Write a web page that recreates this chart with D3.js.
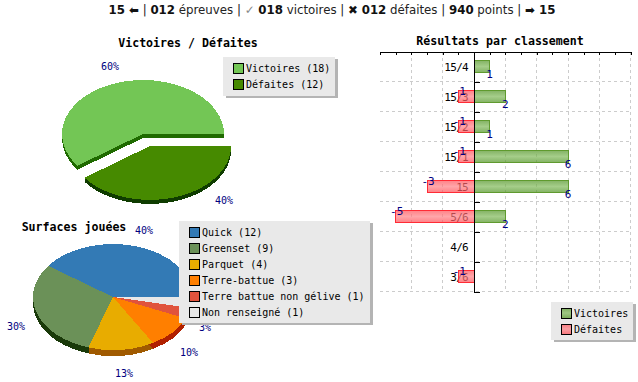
<!DOCTYPE html>
<html>
<head>
<meta charset="utf-8">
<script src="https://d3js.org/d3.v7.min.js"></script>
<style>
    html, body { margin: 0; padding: 0; background: #fff; overflow: hidden; }
    svg { display: block; }
    text { font-family: "DejaVu Sans Mono", monospace; font-size: 10px; }
    .title { font-size: 11.6px; font-weight: bold; }
    .val { fill: #000080; }
    .barval { font-size: 11px; }
    .rank { font-size: 11px; letter-spacing: -0.7px; }
    .head { font-family: "DejaVu Sans", sans-serif; font-size: 11.8px; fill: #222; }
    .head .b { font-weight: bold; fill: #111; }
    .head .g { fill: #888; }
    .axis path, .axis line { stroke: #000; shape-rendering: crispEdges; }
</style>
</head>
<body>
<div id="chart"></div>
<script>
// header line
const headerParts = [["15 ", "b"], ["\u2B05", "b"], [" | ", ""], ["012", "b"], [" épreuves | ", ""], ["\u2713", "g"], [" ", ""], ["018", "b"],
    [" victoires | ", ""], ["\u2716", "b"], [" ", ""], ["012", "b"], [" défaites | ", ""], ["940", "b"], [" points | ", ""], ["\u27A1", "b"], [" 15", "b"]];

// pie 1
const resultNames = ["Victoires", "Défaites"];
const resultValues = [18, 12];
const resultPct = ["60%", "40%"];
const resultColors = ["#73c655", "#468a00"];
const resultSides = ["#1f6a00", "#0f3c00"];

// pie 2
const surfaceNames = ["Quick", "Greenset", "Parquet", "Terre-battue", "Terre battue non gélive", "Non renseigné"];
const surfaceValues = [12, 9, 4, 3, 1, 1];
const surfacePct = ["40%", "30%", "13%", "10%", "3%", "3%"];
const surfaceColors = ["#337ab5", "#6b9158", "#e8ac00", "#ff7f00", "#e0533c", "#e8e8e8"];
const surfaceSides = ["#1a3d5c", "#1a3a0a", "#a05a00", "#b02000", "#8a2010", "#999999"];

// bars
const rankings = ["15/4", "15/3", "15/2", "15/1", "15", "5/6", "4/6", "3/6"];
const wins = [1, 2, 1, 6, 6, 2, 0, 0];
const losses = [0, 1, 1, 1, 3, 5, 0, 1];

const svg = d3.select("#chart").append("svg").attr("width", 638).attr("height", 382);

const defs = svg.append("defs");
function gradient(id, edge, mid) {
    const g = defs.append("linearGradient").attr("id", id).attr("x1", 0).attr("x2", 0).attr("y1", 0).attr("y2", 1);
    g.append("stop").attr("offset", "0%").attr("stop-color", edge);
    g.append("stop").attr("offset", "50%").attr("stop-color", mid);
    g.append("stop").attr("offset", "100%").attr("stop-color", edge);
}
gradient("greenBar", "#4d9120", "#7fb858");
gradient("redBar", "#ff4a52", "#ff8085");

// header
const head = svg.append("text").attr("class", "head").attr("x", 332).attr("y", 14).attr("text-anchor", "middle");
head.selectAll("tspan").data(headerParts).enter().append("tspan")
    .attr("class", d => d[1])
    .style("white-space", "pre")
    .text(d => d[0]);

// legend box with the grey shadow on its right and bottom
function legend(x, y, w, h, swatchX, rowY, names, fills, swatchOpacity) {
    const g = svg.append("g").attr("shape-rendering", "crispEdges");
    g.append("rect").attr("x", x + 3).attr("y", y + 2).attr("width", w).attr("height", h).attr("fill", "#b4b4b4");
    g.append("rect").attr("x", x).attr("y", y).attr("width", w).attr("height", h).attr("fill", "#e9e9e9");
    names.forEach((name, i) => {
        g.append("rect").attr("x", swatchX).attr("y", rowY + i * 16 - 5).attr("width", 10).attr("height", 10)
            .attr("fill", fills[i]).attr("fill-opacity", swatchOpacity || 1).attr("stroke", "#000");
        svg.append("text").attr("x", swatchX + 12.5).attr("y", rowY + i * 16 + 3.5).attr("fill", "#000").text(name);
    });
}

// pseudo 3D pie: d3.arc squashed vertically, sides are the same arc stacked downward, tops go last
function pie3d(values, colors, sides, cx, cy, rx, ry, depth, explode) {
    const slices = d3.pie().sort(null).startAngle(Math.PI / 2).endAngle(Math.PI / 2 - 2 * Math.PI)(values);
    const arc = d3.arc().innerRadius(0).outerRadius(rx);
    const g = svg.append("g").attr("shape-rendering", "crispEdges");
    const place = (i, d) => {
        const off = explode ? explode[i] : [0, 0];
        return `translate(${cx + off[0]},${cy + off[1] + d}) scale(1,${ry / rx})`;
    };
    slices.forEach((s, i) => {
        for (let d = depth; d >= 1; d--) {
            g.append("path").attr("transform", place(i, d)).attr("d", arc(s)).attr("fill", sides[i]);
        }
    });
    slices.forEach((s, i) => {
        g.append("path").attr("transform", place(i, 0)).attr("d", arc(s)).attr("fill", colors[i]);
    });
}

function pieLabels(labels, spots) {
    labels.forEach((t, i) => {
        if (!spots[i]) return;
        svg.append("text").attr("class", "val").attr("x", spots[i][0]).attr("y", spots[i][1]).attr("text-anchor", "middle").text(t);
    });
}

// Victoires / Défaites
svg.append("text").attr("class", "title").attr("x", 188).attr("y", 47).attr("text-anchor", "middle").text("Victoires / Défaites");
pie3d(resultValues, resultColors, resultSides, 143, 134, 81, 54, 4, [[0, 0], [7, 12]]);
pieLabels(resultPct, [[110, 70], [224, 204]]);
legend(223, 57, 112, 39, 233.5, 68, resultNames.map((n, i) => `${n} (${resultValues[i]})`), resultColors);

// Surfaces jouées
svg.append("text").attr("class", "title").attr("x", 74).attr("y", 231).attr("text-anchor", "middle").text("Surfaces jouées");
pie3d(surfaceValues, surfaceColors, surfaceSides, 113, 297, 80, 53, 6);
pieLabels(surfacePct, [[144, 234], [16, 330], [124, 377], [189, 356], [205, 331], null]);
legend(179, 221, 191, 102, 189.5, 232, surfaceNames.map((n, i) => `${n} (${surfaceValues[i]})`), surfaceColors);

// Résultats par classement
const x = d3.scaleLinear().domain([-6, 10]).range([380, 630.7]);
const y = d3.scaleBand().domain(rankings).range([51.5, 291.5]).paddingInner(0.585).paddingOuter(0.2925);
const yEdge = d3.scaleLinear().domain([0, rankings.length]).range([51.5, 291.5]);

svg.append("text").attr("class", "title").attr("x", 500).attr("y", 45).attr("text-anchor", "middle").text("Résultats par classement");

const grid = svg.append("g").attr("stroke", "#cccccc").attr("stroke-dasharray", "3,3").attr("shape-rendering", "crispEdges");
grid.selectAll(".v").data(d3.range(-4, 11, 2)).enter().append("line")
    .attr("x1", d => x(d)).attr("x2", d => x(d)).attr("y1", yEdge(0)).attr("y2", yEdge(8));
grid.selectAll(".h").data(d3.range(1, 9)).enter().append("line")
    .attr("x1", x(-6)).attr("x2", x(10)).attr("y1", d => yEdge(d)).attr("y2", d => yEdge(d));

// labels sit under the translucent bars
svg.selectAll(".rank").data(rankings).enter().append("text")
    .attr("class", "rank")
    .attr("x", 468).attr("y", d => y(d) + y.bandwidth() / 2 + 4)
    .attr("text-anchor", "end").attr("fill", "#000").text(d => d);

const bars = svg.append("g").attr("shape-rendering", "crispEdges").attr("fill-opacity", 0.7);
bars.selectAll(".win").data(rankings.filter((r, i) => wins[i] > 0)).enter().append("rect")
    .attr("x", x(0)).attr("y", d => y(d)).attr("height", y.bandwidth())
    .attr("width", d => x(wins[rankings.indexOf(d)]) - x(0))
    .attr("fill", "url(#greenBar)").attr("stroke", "#5f9a2e");
bars.selectAll(".loss").data(rankings.filter((r, i) => losses[i] > 0)).enter().append("rect")
    .attr("x", d => x(-losses[rankings.indexOf(d)])).attr("y", d => y(d)).attr("height", y.bandwidth())
    .attr("width", d => x(0) - x(-losses[rankings.indexOf(d)]))
    .attr("fill", "url(#redBar)").attr("stroke", "#ff2b35");

// top axis and the vertical axis at zero
svg.append("g").attr("class", "axis").attr("transform", `translate(0,${yEdge(0)})`)
    .call(d3.axisTop(x).ticks(16).tickSizeInner(-3).tickSizeOuter(0).tickFormat(""));
svg.append("g").attr("class", "axis").attr("transform", `translate(${x(0)},0)`)
    .call(d3.axisRight(yEdge).ticks(8).tickSizeInner(5.5).tickSizeOuter(0).tickFormat(""));

rankings.forEach((r, i) => {
    if (wins[i] > 0) svg.append("text").attr("class", "val barval").attr("x", x(wins[i])).attr("y", y(r) + y.bandwidth() + 5.5).attr("text-anchor", "middle").text(wins[i]);
    if (losses[i] > 0) svg.append("text").attr("class", "val barval").attr("x", x(-losses[i]) + 1).attr("y", y(r) + 4.5).attr("text-anchor", "middle").text(-losses[i]);
});

legend(551, 302, 82, 38, 561.5, 313, ["Victoires", "Défaites"], ["url(#greenBar)", "url(#redBar)"], 0.7);
</script>
</body>
</html>
